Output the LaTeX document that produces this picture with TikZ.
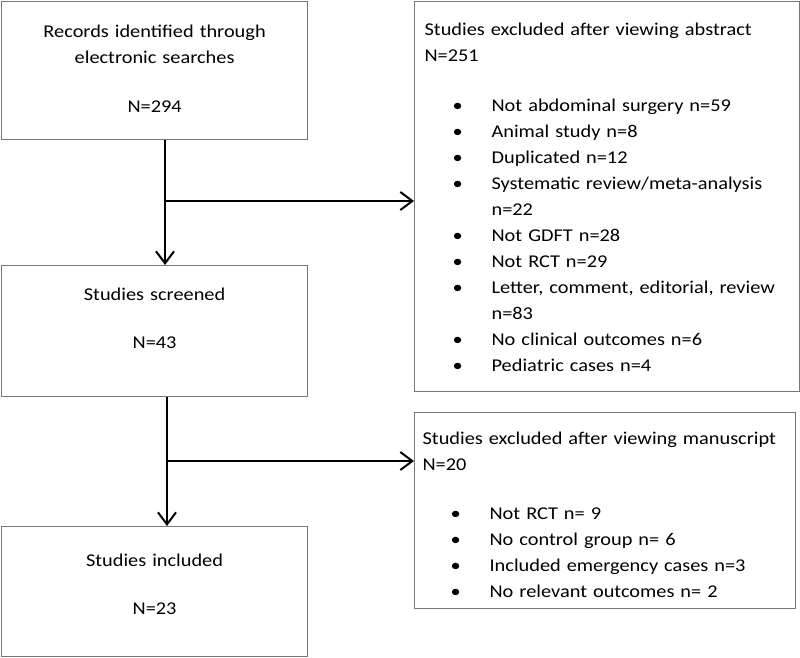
\documentclass[tikz,border=0pt]{standalone}
\usepackage{fontspec}
\setmainfont{Carlito}[FakeStretch=1.13]
\usetikzlibrary{arrows.meta}
\definecolor{boxgray}{RGB}{120,120,120}
\newcommand\itm{\hspace*{28pt}\makebox[39pt][l]{\textbullet}}
\newcommand\cont{\hspace*{67pt}}

\begin{document}
\begin{tikzpicture}[
  x=1pt, y=-1pt,
  box/.style={
    draw=boxgray,
    line width=1.2pt,
    inner ysep=0pt,
    anchor=north west,
    font=\fontsize{18}{26}\selectfont
  },
  stepbox/.style={box, inner xsep=10pt, text width=286pt, align=center},
  excbox/.style={box, inner xsep=10pt, text width=365pt, align=left},
  flow/.style={line width=2pt, -{Straight Barb[length=12pt,width=18pt]}}
]
\useasboundingbox (0,0) rectangle (800,658);

\node[stepbox, text height=36pt, text depth=102pt] (records) at (1,1)
  {Records identified through\\electronic searches\\[23pt]N=294};
\node[stepbox, text height=35pt, text depth=96pt] (screened) at (1,265)
  {Studies screened\\[22pt]N=43};
\node[stepbox, text height=40pt, text depth=90pt] (included) at (1,526)
  {Studies included\\[22pt]N=23};

\node[excbox, text height=34pt, text depth=356pt] (abstract) at (414,1)
  {Studies excluded after viewing abstract\\
   N=251\\[24pt]
   \itm Not abdominal surgery n=59\\
   \itm Animal study n=8\\
   \itm Duplicated n=12\\
   \itm Systematic review/meta-analysis\\
   \cont n=22\\
   \itm Not GDFT n=28\\
   \itm Not RCT n=29\\
   \itm Letter, comment, editorial, review\\
   \cont n=83\\
   \itm No clinical outcomes n=6\\
   \itm Pediatric cases n=4};
\node[excbox, inner xsep=8pt, text height=32pt, text depth=164pt] (manuscript) at (414,412)
  {Studies excluded after viewing manuscript\\
   N=20\\[23pt]
   \itm Not RCT n= 9\\
   \itm No control group n= 6\\
   \itm Included emergency cases n=3\\
   \itm No relevant outcomes n= 2};

\coordinate (fork1) at (165,201);
\coordinate (fork2) at (167,461);

\draw[flow] (records.south -| fork1) -- (screened.north -| fork1);
\draw[flow] (fork1) -- (fork1 -| abstract.west);
\draw[flow] (screened.south -| fork2) -- (included.north -| fork2);
\draw[flow] (fork2) -- (fork2 -| manuscript.west);
\end{tikzpicture}
\end{document}
